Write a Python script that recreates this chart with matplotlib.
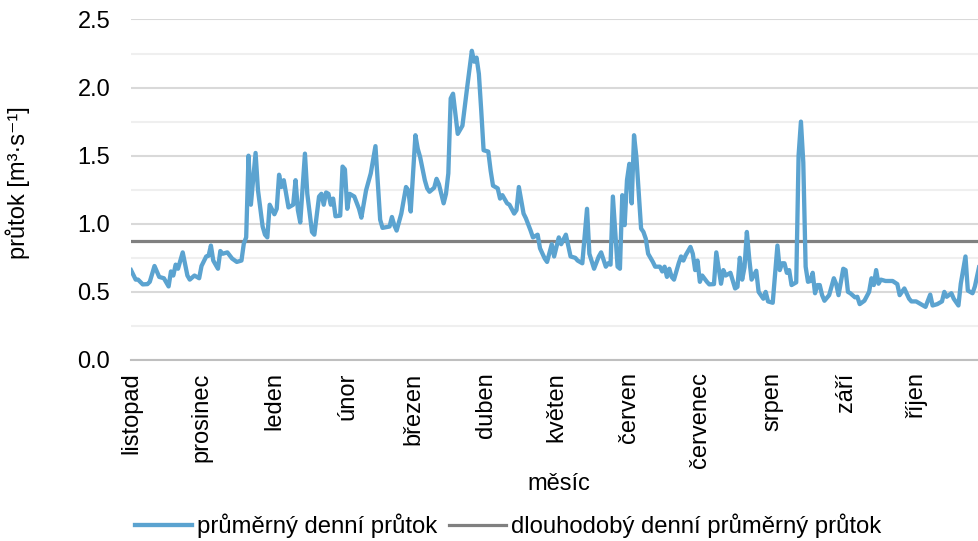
import matplotlib
matplotlib.use('Agg')
import matplotlib.pyplot as plt
from matplotlib.ticker import MultipleLocator

plt.rcParams['font.family'] = ['Liberation Sans', 'DejaVu Sans']

# den od 1. listopadu a průměrný denní průtok [m3/s]
dny = [0, 2, 3, 5, 7, 8, 10, 12, 14, 16, 17, 18, 19, 20, 22, 24, 25, 27, 29, 30,
       32, 33, 34, 35, 37, 38, 39, 41, 43, 45, 47, 48, 49, 50, 51, 53, 54, 56, 57, 58,
       59, 61, 62, 63, 64, 65, 67, 69, 70, 71, 72, 74, 75, 77, 78, 80, 81, 82, 83, 84,
       85, 86, 87, 89, 90, 91, 92, 93, 95, 97, 98, 100, 102, 104, 105, 106, 107, 110, 111, 112,
       113, 115, 117, 118, 119, 121, 122, 123, 125, 126, 127, 129, 130, 131, 133, 134, 135, 136, 137, 139,
       141, 143, 145, 146, 147, 148, 149, 150, 152, 153, 154, 156, 157, 158, 160, 161, 163, 164, 165, 167,
       168, 170, 171, 173, 174, 176, 177, 179, 180, 182, 183, 185, 187, 189, 190, 192, 194, 195, 197, 199,
       200, 202, 203, 204, 205, 207, 208, 209, 210, 211, 212, 213, 214, 215, 217, 218, 219, 220, 222, 223,
       225, 226, 227, 228, 229, 230, 231, 233, 234, 235, 236, 238, 239, 240, 241, 242, 243, 245, 246, 248,
       249, 251, 252, 253, 255, 257, 258, 259, 260, 261, 262, 263, 264, 266, 267, 269, 270, 271, 273, 275,
       276, 277, 278, 279, 280, 281, 283, 284, 285, 286, 287, 288, 289, 290, 291, 292, 293, 294, 295, 297,
       299, 300, 301, 303, 304, 305, 306, 308, 309, 310, 312, 314, 315, 316, 317, 318, 319, 321, 324, 326,
       327, 329, 331, 332, 334, 336, 338, 340, 341, 343, 345, 346, 347, 349, 350, 352, 353, 355, 356, 358,
       359, 361, 363]
prutok = [0.66, 0.59, 0.59, 0.555, 0.557, 0.574, 0.69, 0.61, 0.60, 0.54, 0.65, 0.62, 0.70, 0.67, 0.79, 0.62, 0.59, 0.62, 0.60, 0.69,
          0.76, 0.765, 0.84, 0.73, 0.67, 0.80, 0.78, 0.79, 0.745, 0.72, 0.73, 0.855, 0.90, 1.50, 1.14, 1.52, 1.25, 0.98, 0.92, 0.90,
          1.14, 1.07, 1.11, 1.36, 1.27, 1.32, 1.12, 1.14, 1.32, 1.10, 1.01, 1.515, 1.22, 0.94, 0.92, 1.20, 1.22, 1.14, 1.23, 1.22,
          1.14, 1.185, 1.055, 1.06, 1.42, 1.40, 1.11, 1.22, 1.20, 1.11, 1.045, 1.245, 1.37, 1.57, 1.295, 1.03, 0.97, 0.98, 1.05, 0.99,
          0.95, 1.075, 1.27, 1.245, 1.09, 1.65, 1.55, 1.49, 1.32, 1.26, 1.235, 1.265, 1.33, 1.29, 1.15, 1.22, 1.37, 1.92, 1.955, 1.66,
          1.72, 2.00, 2.27, 2.19, 2.22, 2.10, 1.83, 1.54, 1.53, 1.39, 1.28, 1.26, 1.185, 1.21, 1.15, 1.14, 1.075, 1.10, 1.27, 1.075,
          1.04, 0.95, 0.90, 0.92, 0.82, 0.745, 0.72, 0.85, 0.76, 0.90, 0.85, 0.92, 0.76, 0.75, 0.73, 0.71, 1.11, 0.78, 0.67, 0.76,
          0.79, 0.685, 0.71, 0.70, 1.20, 0.685, 0.67, 1.21, 0.99, 1.32, 1.44, 1.15, 1.65, 1.49, 0.965, 0.94, 0.89, 0.78, 0.72, 0.685,
          0.685, 0.65, 0.685, 0.61, 0.67, 0.61, 0.59, 0.71, 0.76, 0.73, 0.77, 0.83, 0.78, 0.66, 0.73, 0.574, 0.62, 0.574, 0.555, 0.557,
          0.79, 0.56, 0.66, 0.62, 0.64, 0.525, 0.537, 0.75, 0.59, 0.68, 0.94, 0.745, 0.59, 0.655, 0.50, 0.45, 0.50, 0.43, 0.42, 0.84,
          0.66, 0.71, 0.71, 0.64, 0.66, 0.55, 0.57, 1.50, 1.75, 1.45, 0.685, 0.574, 0.58, 0.64, 0.49, 0.55, 0.55, 0.476, 0.435, 0.476,
          0.60, 0.557, 0.476, 0.67, 0.66, 0.50, 0.49, 0.46, 0.464, 0.41, 0.435, 0.50, 0.60, 0.55, 0.66, 0.56, 0.59, 0.58, 0.58, 0.557,
          0.476, 0.525, 0.45, 0.43, 0.43, 0.41, 0.39, 0.48, 0.40, 0.41, 0.43, 0.50, 0.464, 0.49, 0.45, 0.40, 0.56, 0.76, 0.51, 0.49,
          0.54, 0.70, 0.72]

dlouhodoby_prumer = 0.87

mesice = ['listopad', 'prosinec', 'leden', 'únor', 'březen', 'duben',
          'květen', 'červen', 'červenec', 'srpen', 'září', 'říjen']
zacatky_mesicu = [0, 30, 61, 92, 120, 151, 181, 212, 242, 273, 304, 334]

fig = plt.figure(figsize=(9.79, 5.41), dpi=100)
ax = fig.add_axes([0.1338, 0.3346, 0.874, 0.6294])

ax.plot(dny, prutok, color='#5ba3d0', lw=3.1, solid_joinstyle='round',
        label='průměrný denní průtok', zorder=3)
ax.axhline(dlouhodoby_prumer, color='#808080', lw=2.3,
           label='dlouhodobý denní průměrný průtok', zorder=2)

ax.set_xlim(0, 364)
ax.set_ylim(0, 2.5)
ax.yaxis.set_major_locator(MultipleLocator(0.5))
ax.yaxis.set_minor_locator(MultipleLocator(0.25))
ax.yaxis.set_major_formatter(matplotlib.ticker.FormatStrFormatter('%.1f'))
ax.grid(axis='y', which='major', color='#d9d9d9', lw=1.5)
ax.grid(axis='y', which='minor', color='#efefef', lw=1.5)
ax.set_axisbelow(True)
for s in ['top', 'right', 'left']:
    ax.spines[s].set_visible(False)
ax.spines['bottom'].set_color('#bfbfbf')
ax.spines['bottom'].set_linewidth(1.5)

ax.set_xticks(zacatky_mesicu)
ax.set_xticklabels(mesice, rotation=90, ha='center', va='top')
ax.tick_params(axis='x', length=0, pad=9, labelsize=17)
ax.tick_params(axis='y', which='both', length=0, pad=15, labelsize=17)

ax.set_xlabel('měsíc', fontsize=17, labelpad=3)
ax.set_ylabel('průtok [m³·s⁻¹]', fontsize=17, labelpad=28)
ax.yaxis.set_label_coords(-0.118, 0.52)

fig.legend(loc='lower center', bbox_to_anchor=(0.519, -0.035), ncol=2, frameon=False,
           fontsize=17.2, handlelength=2.4, handletextpad=0.2, columnspacing=0.5)

fig.savefig('out.png', dpi=100)
